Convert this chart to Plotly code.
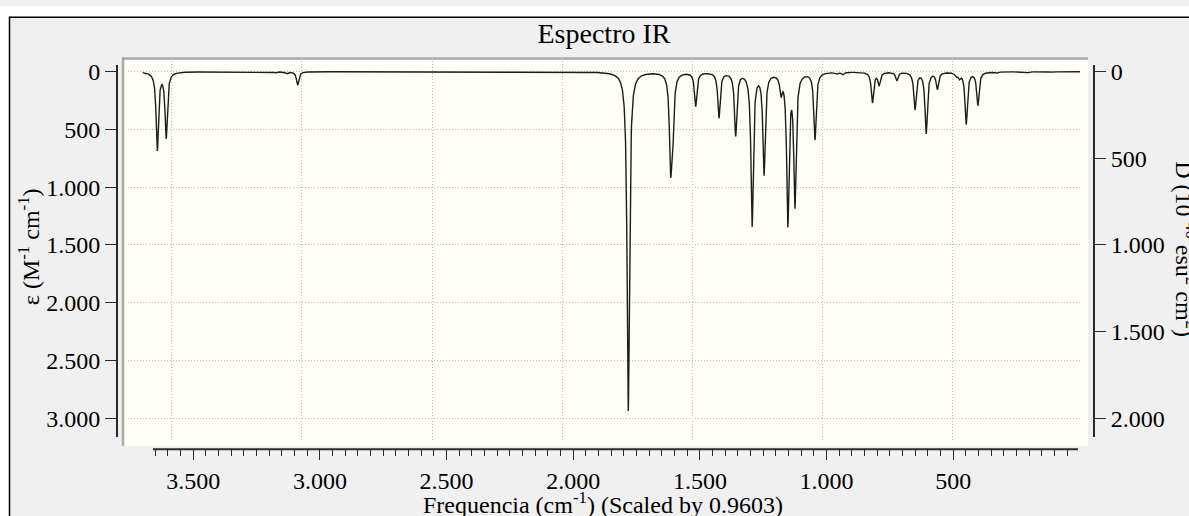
import numpy as np
import plotly.graph_objects as go

# ---------------- data ----------------
peak_freqs = [3642, 3607, 3175, 3131, 3088, 1783, 1616, 1608, 1517, 1425, 1359,
              1294, 1247, 1180, 1153, 1125, 1046, 960, 936, 819, 793, 723, 651,
              607, 563, 489, 476, 449, 403, 328, 205, 118, 50]
peak_eps = [672, 566, 10, 18, 115, 2935, 730, 540, 293, 392, 543,
            1322, 871, 150, 1290, 1130, 580, 15, 20, 264, 110, 73, 321,
            529, 144, 30, 45, 449, 287, 10, 8, 6, 6]
freq_start, freq_end, freq_step = 3700.0, 0.0, 0.5
fwhm = 11.0  # Lorentzian broadening (cm-1)

x_major_ticks = [3500, 3000, 2500, 2000, 1500, 1000, 500]
x_minor_ticks = [v for v in range(50, 3651, 50) if v % 500 != 0]
y_left_ticks = [0, 500, 1000, 1500, 2000, 2500, 3000]
y_right_ticks = [0, 500, 1000, 1500, 2000]
eps_to_D = 2.0 / 3.0

# ---------------- spectrum ----------------
freq = np.arange(freq_start, freq_end - 1e-9, -freq_step)
eps = np.zeros_like(freq)
for f0, a in zip(peak_freqs, peak_eps):
    eps += a / (1.0 + ((freq - f0) / (fwhm / 2.0)) ** 2)

W, H = 1189, 516
def px(x):
    return x / W
def py(y):
    return 1 - y / H

FONT = "Liberation Serif"
AX = "#2a2a2a"
GRID = "#bdbdbd"

fig = go.Figure()
# grid frame (invisible trace just to register the grid axes)
fig.add_trace(go.Scatter(x=freq, y=eps, xaxis="x", yaxis="y", mode="lines",
                         opacity=0, hoverinfo="skip", showlegend=False))
# spectrum
fig.add_trace(go.Scatter(x=freq, y=eps, xaxis="x2", yaxis="y2", mode="lines",
                         line=dict(color="#1c1c1c", width=1.4),
                         hoverinfo="skip", showlegend=False))
# right axis (dipole strength)
fig.add_trace(go.Scatter(x=freq, y=eps * eps_to_D, xaxis="x2", yaxis="y3", mode="lines",
                         opacity=0, hoverinfo="skip", showlegend=False))

tickfont = dict(family=FONT, size=24, color="#000000")

fig.update_layout(
    width=W, height=H,
    margin=dict(l=0, r=0, t=0, b=0, pad=0),
    paper_bgcolor="#f0f0f0",
    plot_bgcolor="rgba(0,0,0,0)",
    separators=",.",
    showlegend=False,
    title=dict(text="Espectro IR", x=px(604), y=py(28), xanchor="center", yanchor="middle",
               xref="paper", yref="paper",
               font=dict(family=FONT, size=28, color="#000000")),
    xaxis=dict(domain=[px(128), px(1082)], range=[3757.8, -8.1], anchor="y",
               tick0=-12.0, dtick=513.9, showgrid=True, gridcolor=GRID, griddash="1px,2px",
               gridwidth=1, showticklabels=False, ticks="", showline=False, zeroline=False),
    yaxis=dict(domain=[py(440), py(53)], range=[3195.9, -115.5], anchor="x",
               tick0=0, dtick=500, showgrid=True, gridcolor=GRID, griddash="1px,2px",
               gridwidth=1, showticklabels=False, ticks="", showline=False, zeroline=False),
    xaxis2=dict(domain=[px(118), px(1093)], range=[3797.2, -51.5], anchor="free",
                position=py(448), tickmode="array", tickvals=x_major_ticks,
                ticks="outside", ticklen=10, tickwidth=1.3, tickcolor=AX,
                showgrid=False, zeroline=False, showline=False, tickformat=",d",
                tickfont=tickfont,
                minor=dict(tickmode="array", tickvals=x_minor_ticks, ticks="outside",
                           ticklen=6, tickwidth=1, tickcolor=AX, showgrid=False)),
    yaxis2=dict(domain=[py(436), py(60)], range=[3161.6, -55.6], anchor="x2", side="left",
                tickmode="array", tickvals=y_left_ticks, ticks="outside", ticklen=11,
                tickwidth=1.3, tickcolor=AX, showline=True, linewidth=2, linecolor=AX,
                showgrid=False, zeroline=False, tickformat=",d", tickfont=tickfont),
    yaxis3=dict(overlaying="y2", anchor="x2", side="right", range=[3161.6 * eps_to_D, -55.6 * eps_to_D],
                tickmode="array", tickvals=y_right_ticks, ticks="outside", ticklen=11,
                tickwidth=1.3, tickcolor=AX, showline=True, linewidth=2, linecolor=AX,
                showgrid=False, zeroline=False, tickformat=",d", tickfont=tickfont),
)

shapes = [
    # window frame (white outside, black edge)
    dict(type="rect", xref="paper", yref="paper", x0=0, x1=1, y0=py(11), y1=1,
         fillcolor="#ffffff", line=dict(width=0), layer="below"),
    dict(type="rect", xref="paper", yref="paper", x0=0, x1=px(9), y0=0, y1=1,
         fillcolor="#ffffff", line=dict(width=0), layer="below"),
    dict(type="line", xref="paper", yref="paper", x0=px(9), x1=1, y0=py(11.5), y1=py(11.5),
         line=dict(color="#000000", width=1.5), layer="below"),
    dict(type="line", xref="paper", yref="paper", x0=px(9.5), x1=px(9.5), y0=0, y1=py(11),
         line=dict(color="#000000", width=1.5), layer="below"),
    # plot panel
    dict(type="rect", xref="paper", yref="paper", x0=px(122), x1=px(1088), y0=py(445), y1=py(52),
         fillcolor="#fffff7", line=dict(width=0), layer="below"),
    dict(type="line", xref="paper", yref="paper", x0=px(122), x1=px(1088), y0=py(53), y1=py(53),
         line=dict(color="#a8a8a8", width=2.5), layer="below"),
    dict(type="line", xref="paper", yref="paper", x0=px(123), x1=px(123), y0=py(445), y1=py(52),
         line=dict(color="#a8a8a8", width=2.5), layer="below"),
    # x axis line
    dict(type="line", xref="paper", yref="paper", x0=px(153), x1=px(1078), y0=py(448.5), y1=py(448.5),
         line=dict(color=AX, width=2), layer="above"),
]
fig.update_layout(shapes=shapes)

fig.update_layout(annotations=[
    dict(text="Frequencia (cm<sup>-1</sup>) (Scaled by 0.9603)", x=px(603), y=py(503),
         xref="paper", yref="paper", showarrow=False, xanchor="center", yanchor="middle",
         font=dict(family=FONT, size=24, color="#000000")),
    dict(text="ε (M<sup>-1</sup> cm<sup>-1</sup>)", x=px(29), y=py(244), textangle=-90,
         xref="paper", yref="paper", showarrow=False, xanchor="center", yanchor="middle",
         font=dict(family=FONT, size=24, color="#000000")),
    dict(text="D (10<sup>-40</sup> esu<sup>2</sup> cm<sup>2</sup>)", x=px(1186), y=py(246),
         textangle=90, xref="paper", yref="paper", showarrow=False,
         xanchor="center", yanchor="middle",
         font=dict(family=FONT, size=24, color="#000000")),
])

fig.write_html("out.html")
